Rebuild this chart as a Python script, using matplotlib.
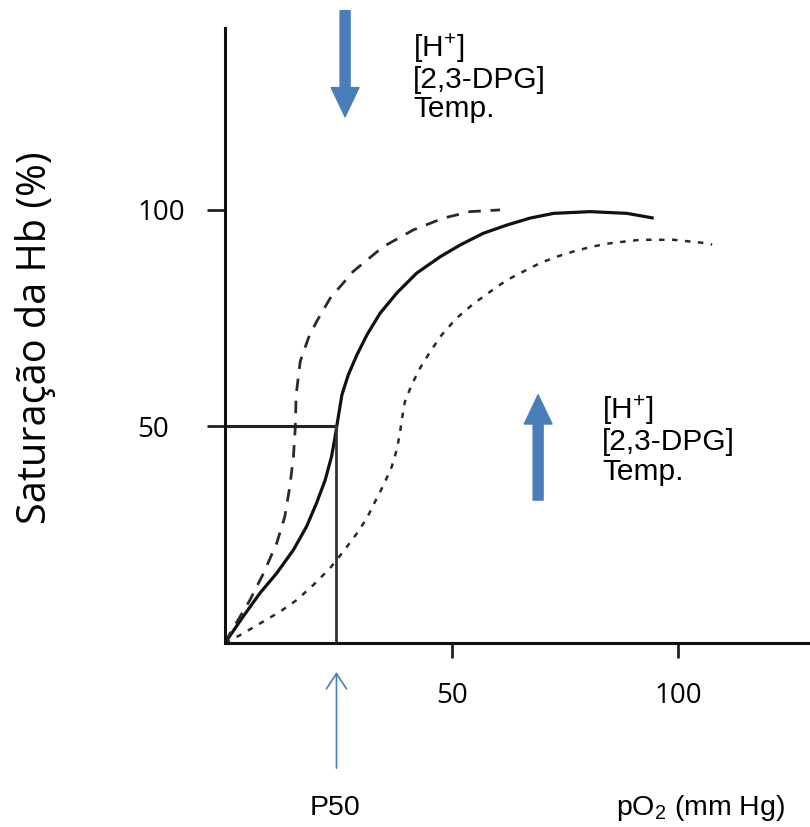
import matplotlib
matplotlib.use("Agg")
import matplotlib.pyplot as plt

# curva normal (P50 ~ 25 mmHg)
normal_po2 = [0, 4.0, 7.7, 11.4, 15.1, 18.0, 20.2, 22.1, 23.5, 24.3, 24.7, 25.8,
              27.2, 29.1, 31.3, 34.2, 37.9, 42.3, 47.5, 51.9, 57.0, 62.2, 67.3,
              72.5, 80.6, 88.7, 94.6]
normal_sat = [0, 6.1, 11.5, 16.1, 21.5, 26.9, 32.3, 37.6, 43.0, 47.6, 50.3, 57.3,
              61.9, 66.5, 71.1, 76.1, 80.8, 85.4, 89.2, 91.9, 94.6, 96.5, 98.1,
              99.2, 99.6, 99.2, 98.1]

# desvio para a esquerda (tracejada)
left_po2 = [0, 1.1, 5.5, 8.5, 11.4, 13.2, 14.3, 15.1, 15.5, 15.7, 16.6, 18.4,
            20.2, 23.2, 28.3, 34.9, 41.6, 48.2, 54.1, 60.7]
left_sat = [0, 2.2, 9.9, 16.1, 23.0, 29.2, 36.1, 43.0, 49.6, 57.3, 65.0, 70.4,
            74.2, 79.6, 85.8, 91.5, 95.4, 98.1, 99.6, 100.0]

# desvio para a direita (pontilhada)
right_po2 = [0, 3.3, 7.7, 12.1, 15.8, 19.5, 23.2, 26.1, 29.1, 31.3, 33.1, 35.0,
             36.8, 37.9, 38.6, 39.0, 39.7, 41.2, 43.0, 45.3, 47.8, 51.1, 54.8,
             58.5, 62.2, 65.9, 69.5, 73.2, 76.9, 80.9, 85.0, 91.6, 99.0, 106.3,
             107.5]
right_sat = [0, 1.8, 4.5, 7.2, 9.9, 13.4, 17.3, 21.1, 25.3, 28.8, 32.6, 36.5,
             40.7, 44.6, 48.4, 51.5, 55.7, 59.6, 63.4, 67.3, 71.1, 75.0, 78.3,
             81.1, 83.8, 85.8, 87.7, 89.2, 90.4, 91.5, 92.3, 93.1, 93.1, 92.3,
             92.0]

p50 = 24.6
x_ticks = [50, 100]
y_ticks = [50, 100]
effectors = "[H$^{+}$]\n[2,3-DPG]\nTemp."

plt.rcParams["mathtext.fontset"] = "custom"
plt.rcParams["mathtext.rm"] = "Liberation Sans"
plt.rcParams["mathtext.it"] = "Liberation Sans"
plt.rcParams["font.family"] = ["Open Sans", "DejaVu Sans"]

blue = "#4a7ebb"

fig = plt.figure(figsize=(8.1, 8.27), dpi=100)
ax = fig.add_axes([225 / 810, (827 - 643) / 827, 585 / 810, 615 / 827])
ax.set_xlim(0, 129.1)
ax.set_ylim(0, 142)

for s in ["top", "right"]:
    ax.spines[s].set_visible(False)
for s in ["left", "bottom"]:
    ax.spines[s].set_linewidth(2.2)
    ax.spines[s].set_color("#111111")

ax.plot(normal_po2, normal_sat, color="#111111", lw=2.3, solid_capstyle="butt")
ax.plot(left_po2, left_sat, color="#2a2a2a", lw=2.0, dashes=(4.5, 3.5))
ax.plot(right_po2, right_sat, color="#2a2a2a", lw=1.8, dashes=(2.2, 3.0))

# linhas do P50
ax.plot([0, p50], [50, 50], color="#222222", lw=2.2)
ax.plot([p50, p50], [0, 50], color="#333333", lw=2.0)

ax.set_xticks(x_ticks)
ax.set_yticks(y_ticks)
ax.tick_params(axis="x", direction="out", length=11, width=2, color="#222222",
               labelsize=20, pad=17)
ax.tick_params(axis="y", direction="out", length=13, width=2, color="#222222",
               labelsize=20, pad=50)
for lbl in ax.get_yticklabels():
    lbl.set_horizontalalignment("left")

fig.text(36 / 810, 1 - 338 / 827, "Saturação da Hb (%)", rotation=90,
         ha="center", va="center", fontsize=28.5)

# setas azuis
big = "simple,head_length=21,head_width=20,tail_width=7.2"
ax.annotate("", xy=(26.5, 121.5), xytext=(26.5, 146), annotation_clip=False,
            arrowprops=dict(arrowstyle=big, color=blue, mutation_scale=1,
                            shrinkA=0, shrinkB=0))
ax.annotate("", xy=(69.1, 57.3), xytext=(69.1, 33.0), annotation_clip=False,
            arrowprops=dict(arrowstyle=big, color=blue, mutation_scale=1,
                            shrinkA=0, shrinkB=0))

ax.text(41.5, 141.3, effectors, ha="left", va="top", fontsize=21.5,
        family="Liberation Sans", linespacing=1.05, clip_on=False)
ax.text(83.2, 57.6, effectors, ha="left", va="top", fontsize=21.5,
        family="Liberation Sans", linespacing=1.05, clip_on=False)

# seta do P50
ax.annotate("", xy=(p50, -6.7), xytext=(p50, -28.9), annotation_clip=False,
            arrowprops=dict(arrowstyle="->,head_length=0.55,head_width=0.36",
                            color=blue, lw=1.2, mutation_scale=20,
                            shrinkA=0, shrinkB=0))

fig.text(335 / 810, 1 - 808 / 827, "P50", ha="center", va="center",
         fontsize=20.5, family="Liberation Sans")
fig.text(701 / 810, 1 - 808 / 827, "pO$_2$ (mm Hg)", ha="center", va="center",
         fontsize=20.5, family="Liberation Sans")

fig.savefig("out.png", dpi=100)
